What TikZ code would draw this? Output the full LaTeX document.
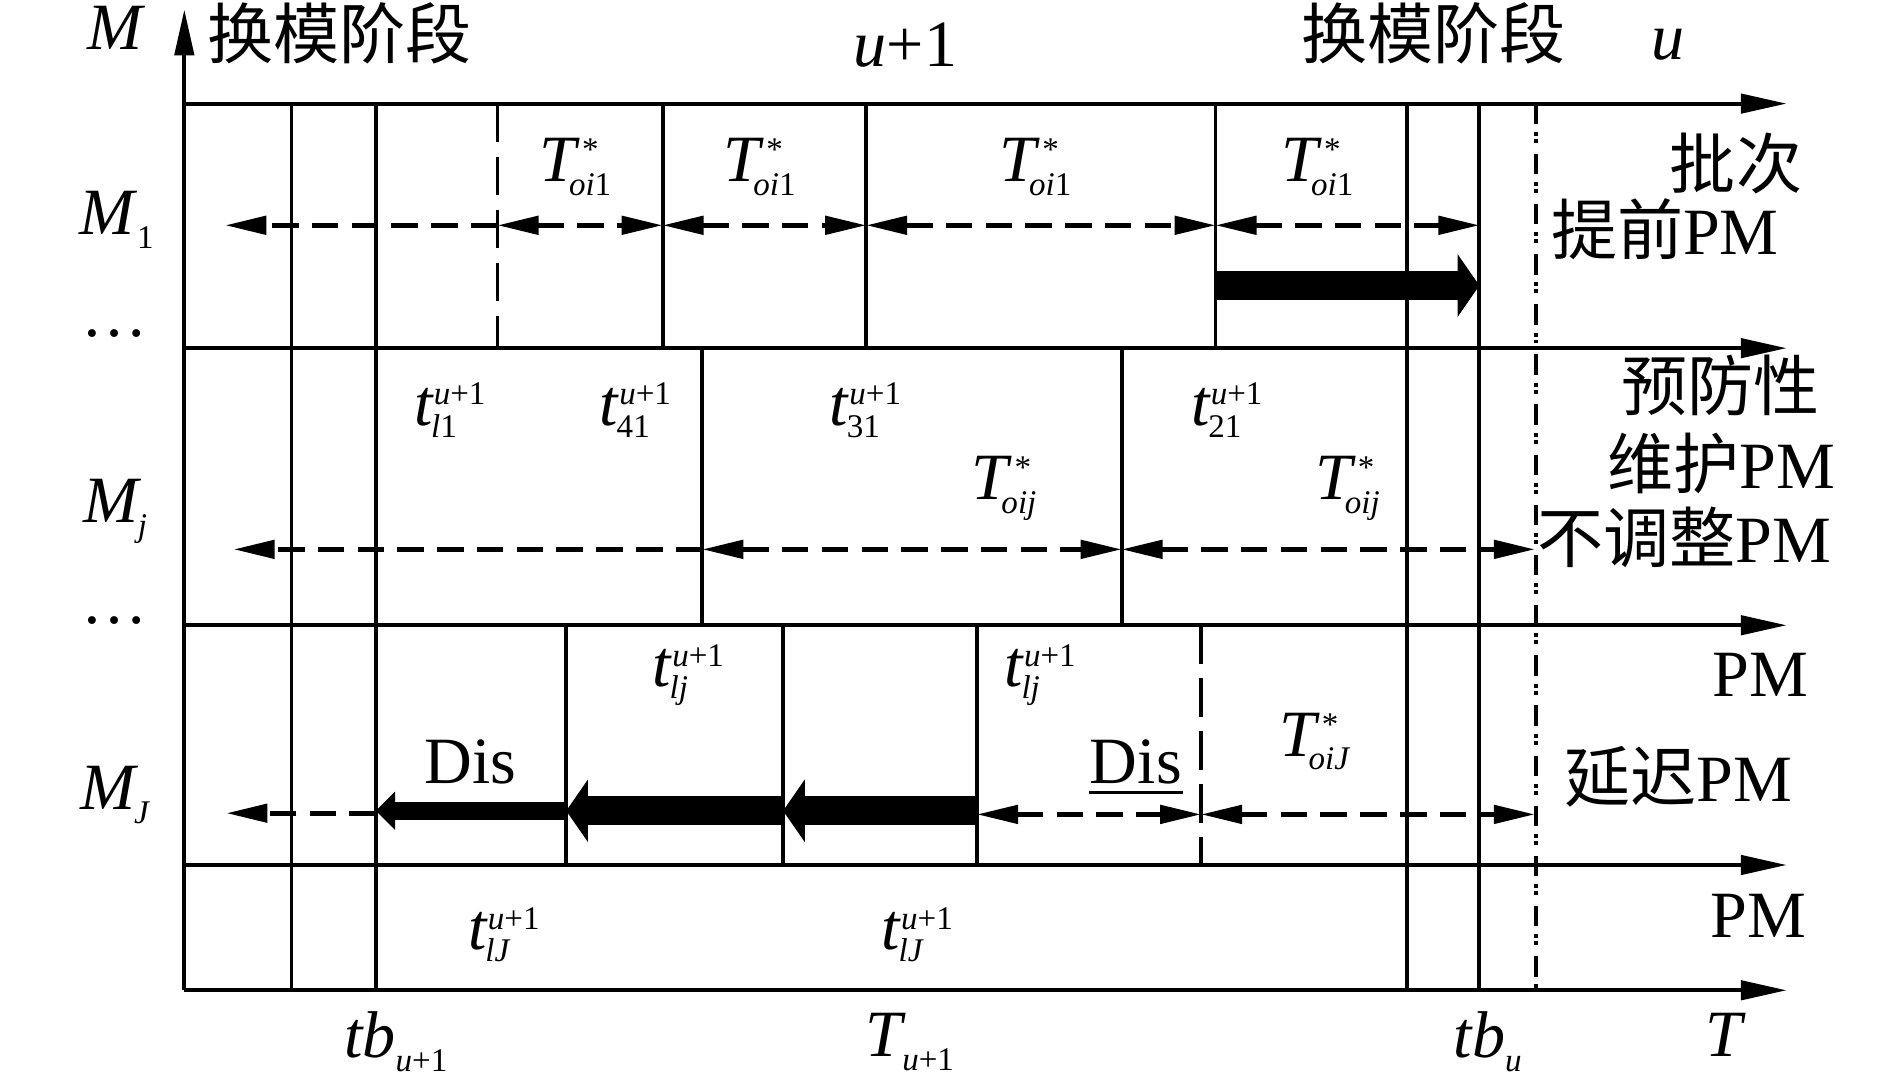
\documentclass[tikz,border=0pt]{standalone}
\usepackage{fontspec}
\setmainfont{Liberation Serif}
\newfontfamily\cjk{Noto Sans CJK SC}
\usetikzlibrary{arrows.meta}
\newcommand\fsz{\fontsize{15.6}{18}\selectfont}
\newcommand\smz{\fontsize{7.8}{9}\selectfont}
\newcommand\Tst[1]{\textit{T}\ooalign{\kern0.5pt\raisebox{5pt}{\smz *}\cr\kern-2.6pt\raisebox{-3.1pt}{\smz #1}\cr}}
\newcommand\tu[1]{\textit{t}\ooalign{\raisebox{4.8pt}{\smz\textit{u}+1}\cr\kern-0.6pt\raisebox{-2.8pt}{\smz #1}\cr}}
\newcommand\subd[1]{\raisebox{-3.2pt}{\smz #1}}
\tikzset{
  ah/.tip={Triangle[length=3.8mm,width=1.6mm]},
  dh/.tip={Triangle[length=3.4mm,width=1.5mm]},
  ax/.style={line width=0.9pt,-ah},
  gl/.style={line width=0.9pt},
  dgl/.style={line width=0.9pt,dash pattern=on 3.2mm off 1.2mm},
  ddl/.style={line width=0.9pt,dash pattern=on 1.7mm off 0.65mm on 0.33mm off 0.25mm on 0.33mm off 0.9mm},
  da/.style={line width=1.1pt,dash pattern=on 2.2mm off 1.1mm},
  bigarr/.style={line width=2.4mm,-{Triangle[length=1.8mm,width=5.1mm]}},
  smarr/.style={line width=1.5mm,-{Triangle[length=1.6mm,width=3.1mm]}},
  lbl/.style={inner sep=0pt,anchor=base west,font=\fsz},
  cl/.style={inner sep=0pt,anchor=center,font=\fsz},
}
\begin{document}
\begin{tikzpicture}[x=0.01cm,y=-0.01cm]
\useasboundingbox (0,0) rectangle (1568,890);
% axes
\draw[ax] (153,822) -- (153,8);
\foreach \yy in {86,289,519,718,822}{\draw[ax] (153,\yy) -- (1483,\yy);}
% full-height lines
\foreach \xx in {242,312,1168,1228}{\draw[gl] (\xx,86) -- (\xx,822);}
\draw[ddl] (1275,86) -- (1275,822);
% row 1
\draw[dgl] (413,86) -- (413,289);
\foreach \xx in {550,719,1009}{\draw[gl] (\xx,86) -- (\xx,289);}
% row 2
\foreach \xx in {583,931}{\draw[gl] (\xx,289) -- (\xx,519);}
% row 3
\foreach \xx in {470,650,811}{\draw[gl] (\xx,519) -- (\xx,718);}
\draw[dgl] (997,519) -- (997,718);
% dashed arrows row 1
\draw[da,-dh] (413,187) -- (187,187);
\draw[da,dh-dh] (413,187) -- (550,187);
\draw[da,dh-dh] (550,187) -- (719,187);
\draw[da,dh-dh] (719,187) -- (1009,187);
\draw[da,dh-dh] (1009,187) -- (1228,187);
\draw[bigarr] (1009,237) -- (1228,237);
% row 2
\draw[da,-dh] (583,456) -- (194,456);
\draw[da,dh-dh] (583,456) -- (931,456);
\draw[da,dh-dh] (931,456) -- (1274,456);
% row 3
\draw[da,-dh] (312,675) -- (188,675);
\draw[smarr] (470,673) -- (312,673);
\draw[bigarr] (650,673) -- (470,673);
\draw[bigarr] (811,673) -- (650,673);
\draw[da,dh-dh] (811,676) -- (997,676);
\draw[da,dh-dh] (997,676) -- (1274,676);
% top labels
\node[lbl] (M) at (72,41) {\textit{M}};
\node[cl,font=\fsz\cjk] (hm1) at (282,28) {换模阶段};
\node[lbl] (u1) at (708,55) {\textit{u}+1};
\node[cl,font=\fsz\cjk] (hm2) at (1190,28) {换模阶段};
\node[lbl] (u) at (1370,49) {\textit{u}};
% left labels
\node[lbl] (M1) at (65,195) {\textit{M}\subd{1}};
\node[cl] (d1) at (95,277) {…};
\node[lbl] (Mj) at (69,434) {\textit{M}\kern-1pt\subd{\textit{j}}};
\node[cl] (d2) at (95,515) {…};
\node[lbl] (MJ) at (66,672) {\textit{M}\kern-1pt\subd{\textit{J}}};
% row 1 labels
\node[lbl] (a1) at (447,151) {\Tst{\textit{oi}1}};
\node[lbl] (a2) at (600,151) {\Tst{\textit{oi}1}};
\node[lbl] (a3) at (829,151) {\Tst{\textit{oi}1}};
\node[lbl] (a4) at (1063,151) {\Tst{\textit{oi}1}};
\node[cl] (r1a) at (1441,136) {\cjk 批次};
\node[cl] (r1b) at (1382,190) {{\cjk 提前}PM};
% row 2 labels
\node[lbl] (b1) at (343,353) {\tu{\textit{l}1}};
\node[lbl] (b2) at (497,353) {\tu{41}};
\node[lbl] (b3) at (688,353) {\tu{31}};
\node[lbl] (b4) at (988,353) {\tu{21}};
\node[lbl] (b5) at (806,415) {\Tst{\textit{oij}}};
\node[lbl] (b6) at (1091,415) {\Tst{\textit{oij}}};
\node[cl] (r2a) at (1428,320) {\cjk 预防性};
\node[cl] (r2b) at (1429,385) {{\cjk 维护}PM};
\node[cl] (r2c) at (1398,446) {{\cjk 不调整}PM};
% row 3 labels
\node[lbl] (c1) at (541,570) {\tu{\textit{lj}}};
\node[lbl] (c2) at (833,570) {\tu{\textit{lj}}};
\node[lbl] (c3) at (1061,628) {\Tst{\textit{oiJ}}};
\node[lbl] (dis1) at (352,650) {Dis};
\node[lbl] (dis2) at (904,650) {Dis};
\draw[line width=0.8pt] ([yshift=-2.2pt]dis2.base west) -- ([yshift=-2.2pt]dis2.base east);
\node[lbl] (r3a) at (1421,578) {PM};
\node[cl] (r3b) at (1393,645) {{\cjk 延迟}PM};
% row 4 labels
\node[lbl] (e1) at (388,788) {\tu{\textit{lJ}}};
\node[lbl] (e2) at (731,788) {\tu{\textit{lJ}}};
\node[lbl] (r4a) at (1419,778) {PM};
% bottom labels
\node[lbl] (tb1) at (285,878) {\textit{tb}\subd{\textit{u}+1}};
\node[lbl] (Tu1) at (718,877) {\textit{T}\kern-1pt\subd{\textit{u}+1}};
\node[lbl] (tbu) at (1206,878) {\textit{tb}\subd{\textit{u}}};
\node[lbl] (T) at (1415,877) {\textit{T}};
\end{tikzpicture}
\end{document}
